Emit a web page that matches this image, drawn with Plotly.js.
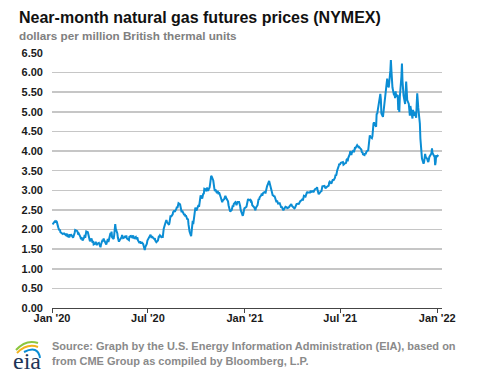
<!DOCTYPE html>
<html>
<head>
<meta charset="utf-8">
<script src="https://cdn.plot.ly/plotly-3.0.1.min.js"></script>
<style>
html,body{margin:0;padding:0;background:#fff;}
#chart{width:477px;height:379px;}
</style>
</head>
<body>
<div id="chart"></div>
<script>
// Near-month NYMEX natural gas futures, dollars per MMBtu
const dates = [
"2020-01-02","2020-01-03","2020-01-06","2020-01-07","2020-01-08","2020-01-09","2020-01-10","2020-01-13","2020-01-14","2020-01-15",
"2020-01-16","2020-01-17","2020-01-21","2020-01-22","2020-01-23","2020-01-24","2020-01-27","2020-01-28","2020-01-29","2020-01-30",
"2020-01-31","2020-02-03","2020-02-04","2020-02-05","2020-02-06","2020-02-07","2020-02-10","2020-02-11","2020-02-12","2020-02-13",
"2020-02-14","2020-02-18","2020-02-19","2020-02-20","2020-02-21","2020-02-24","2020-02-25","2020-02-26","2020-02-27","2020-02-28",
"2020-03-02","2020-03-03","2020-03-04","2020-03-05","2020-03-06","2020-03-09","2020-03-10","2020-03-11","2020-03-12","2020-03-13",
"2020-03-16","2020-03-17","2020-03-18","2020-03-19","2020-03-20","2020-03-23","2020-03-24","2020-03-25","2020-03-26","2020-03-27",
"2020-03-30","2020-03-31","2020-04-01","2020-04-02","2020-04-03","2020-04-06","2020-04-07","2020-04-08","2020-04-09","2020-04-13",
"2020-04-14","2020-04-15","2020-04-16","2020-04-17","2020-04-20","2020-04-21","2020-04-22","2020-04-23","2020-04-24","2020-04-27",
"2020-04-28","2020-04-29","2020-04-30","2020-05-01","2020-05-04","2020-05-05","2020-05-06","2020-05-07","2020-05-08","2020-05-11",
"2020-05-12","2020-05-13","2020-05-14","2020-05-15","2020-05-18","2020-05-19","2020-05-20","2020-05-21","2020-05-22","2020-05-26",
"2020-05-27","2020-05-28","2020-05-29","2020-06-01","2020-06-02","2020-06-03","2020-06-04","2020-06-05","2020-06-08","2020-06-09",
"2020-06-10","2020-06-11","2020-06-12","2020-06-15","2020-06-16","2020-06-17","2020-06-18","2020-06-19","2020-06-22","2020-06-23",
"2020-06-24","2020-06-25","2020-06-26","2020-06-29","2020-06-30","2020-07-01","2020-07-02","2020-07-06","2020-07-07","2020-07-08",
"2020-07-09","2020-07-10","2020-07-13","2020-07-14","2020-07-15","2020-07-16","2020-07-17","2020-07-20","2020-07-21","2020-07-22",
"2020-07-23","2020-07-24","2020-07-27","2020-07-28","2020-07-29","2020-07-30","2020-07-31","2020-08-03","2020-08-04","2020-08-05",
"2020-08-06","2020-08-07","2020-08-10","2020-08-11","2020-08-12","2020-08-13","2020-08-14","2020-08-17","2020-08-18","2020-08-19",
"2020-08-20","2020-08-21","2020-08-24","2020-08-25","2020-08-26","2020-08-27","2020-08-28","2020-08-31","2020-09-01","2020-09-02",
"2020-09-03","2020-09-04","2020-09-08","2020-09-09","2020-09-10","2020-09-11","2020-09-14","2020-09-15","2020-09-16","2020-09-17",
"2020-09-18","2020-09-21","2020-09-22","2020-09-23","2020-09-24","2020-09-25","2020-09-28","2020-09-29","2020-09-30","2020-10-01",
"2020-10-02","2020-10-05","2020-10-06","2020-10-07","2020-10-08","2020-10-09","2020-10-12","2020-10-13","2020-10-14","2020-10-15",
"2020-10-16","2020-10-19","2020-10-20","2020-10-21","2020-10-22","2020-10-23","2020-10-26","2020-10-27","2020-10-28","2020-10-29",
"2020-10-30","2020-11-02","2020-11-03","2020-11-04","2020-11-05","2020-11-06","2020-11-09","2020-11-10","2020-11-11","2020-11-12",
"2020-11-13","2020-11-16","2020-11-17","2020-11-18","2020-11-19","2020-11-20","2020-11-23","2020-11-24","2020-11-25","2020-11-27",
"2020-11-30","2020-12-01","2020-12-02","2020-12-03","2020-12-04","2020-12-07","2020-12-08","2020-12-09","2020-12-10","2020-12-11",
"2020-12-14","2020-12-15","2020-12-16","2020-12-17","2020-12-18","2020-12-21","2020-12-22","2020-12-23","2020-12-24","2020-12-28",
"2020-12-29","2020-12-30","2020-12-31",
"2021-01-04","2021-01-05","2021-01-06","2021-01-07","2021-01-08","2021-01-11","2021-01-12","2021-01-13","2021-01-14","2021-01-15",
"2021-01-19","2021-01-20","2021-01-21","2021-01-22","2021-01-25","2021-01-26","2021-01-27","2021-01-28","2021-01-29","2021-02-01",
"2021-02-02","2021-02-03","2021-02-04","2021-02-05","2021-02-08","2021-02-09","2021-02-10","2021-02-11","2021-02-12","2021-02-16",
"2021-02-17","2021-02-18","2021-02-19","2021-02-22","2021-02-23","2021-02-24","2021-02-25","2021-02-26","2021-03-01","2021-03-02",
"2021-03-03","2021-03-04","2021-03-05","2021-03-08","2021-03-09","2021-03-10","2021-03-11","2021-03-12","2021-03-15","2021-03-16",
"2021-03-17","2021-03-18","2021-03-19","2021-03-22","2021-03-23","2021-03-24","2021-03-25","2021-03-26","2021-03-29","2021-03-30",
"2021-03-31","2021-04-01","2021-04-05","2021-04-06","2021-04-07","2021-04-08","2021-04-09","2021-04-12","2021-04-13","2021-04-14",
"2021-04-15","2021-04-16","2021-04-19","2021-04-20","2021-04-21","2021-04-22","2021-04-23","2021-04-26","2021-04-27","2021-04-28",
"2021-04-29","2021-04-30","2021-05-03","2021-05-04","2021-05-05","2021-05-06","2021-05-07","2021-05-10","2021-05-11","2021-05-12",
"2021-05-13","2021-05-14","2021-05-17","2021-05-18","2021-05-19","2021-05-20","2021-05-21","2021-05-24","2021-05-25","2021-05-26",
"2021-05-27","2021-05-28","2021-06-01","2021-06-02","2021-06-03","2021-06-04","2021-06-07","2021-06-08","2021-06-09","2021-06-10",
"2021-06-11","2021-06-14","2021-06-15","2021-06-16","2021-06-17","2021-06-18","2021-06-21","2021-06-22","2021-06-23","2021-06-24",
"2021-06-25","2021-06-28","2021-06-29","2021-06-30","2021-07-01","2021-07-02","2021-07-06","2021-07-07","2021-07-08","2021-07-09",
"2021-07-12","2021-07-13","2021-07-14","2021-07-15","2021-07-16","2021-07-19","2021-07-20","2021-07-21","2021-07-22","2021-07-23",
"2021-07-26","2021-07-27","2021-07-28","2021-07-29","2021-07-30","2021-08-02","2021-08-03","2021-08-04","2021-08-05","2021-08-06",
"2021-08-09","2021-08-10","2021-08-11","2021-08-12","2021-08-13","2021-08-16","2021-08-17","2021-08-18","2021-08-19","2021-08-20",
"2021-08-23","2021-08-24","2021-08-25","2021-08-26","2021-08-27","2021-08-30","2021-08-31","2021-09-01","2021-09-02","2021-09-03",
"2021-09-07","2021-09-08","2021-09-09","2021-09-10","2021-09-13","2021-09-14","2021-09-15","2021-09-16","2021-09-17","2021-09-20",
"2021-09-21","2021-09-22","2021-09-23","2021-09-24","2021-09-27","2021-09-28","2021-09-29","2021-09-30","2021-10-01","2021-10-04",
"2021-10-05","2021-10-06","2021-10-07","2021-10-08","2021-10-11","2021-10-12","2021-10-13","2021-10-14","2021-10-15","2021-10-18",
"2021-10-19","2021-10-20","2021-10-21","2021-10-22","2021-10-25","2021-10-26","2021-10-27","2021-10-28","2021-10-29","2021-11-01",
"2021-11-02","2021-11-03","2021-11-04","2021-11-05","2021-11-08","2021-11-09","2021-11-10","2021-11-11","2021-11-12","2021-11-15",
"2021-11-16","2021-11-17","2021-11-18","2021-11-19","2021-11-22","2021-11-23","2021-11-24","2021-11-26","2021-11-29","2021-11-30",
"2021-12-01","2021-12-02","2021-12-03","2021-12-06","2021-12-07","2021-12-08","2021-12-09","2021-12-10","2021-12-13","2021-12-14",
"2021-12-15","2021-12-16","2021-12-17","2021-12-20","2021-12-21","2021-12-22","2021-12-23","2021-12-27","2021-12-28","2021-12-29",
"2021-12-30","2021-12-31","2022-01-03"
];
const prices = [
2.13,2.15,2.20,2.22,2.18,2.21,2.20,2.05,2.01,1.98,
2.00,1.93,1.89,1.91,1.88,1.90,1.86,1.90,1.86,1.84,
1.86,1.80,1.88,1.83,1.88,1.85,1.79,1.83,1.86,1.92,
1.99,1.96,1.92,1.87,1.89,1.81,1.75,1.80,1.73,1.72,
1.80,1.86,1.79,1.87,1.95,1.93,1.86,1.82,1.76,1.70,
1.77,1.72,1.66,1.71,1.62,1.64,1.69,1.64,1.60,1.64,
1.66,1.62,1.58,1.55,1.62,1.74,1.70,1.77,1.73,1.62,
1.67,1.71,1.76,1.68,1.85,1.91,1.83,1.95,1.80,1.76,
1.86,1.97,2.14,2.02,1.90,1.79,1.74,1.69,1.72,1.77,
1.80,1.86,1.82,1.78,1.80,1.84,1.79,1.85,1.77,1.73,
1.83,1.80,1.85,1.80,1.82,1.85,1.79,1.78,1.81,1.75,
1.78,1.80,1.73,1.66,1.70,1.66,1.64,1.68,1.63,1.58,
1.52,1.48,1.55,1.64,1.72,1.74,1.79,1.87,1.82,1.79,
1.83,1.80,1.76,1.78,1.72,1.71,1.68,1.72,1.78,1.84,
1.80,1.85,1.81,1.83,1.79,1.90,2.02,2.16,2.19,2.24,
2.20,2.17,2.12,2.18,2.27,2.36,2.33,2.39,2.46,2.44,
2.49,2.45,2.53,2.58,2.55,2.60,2.67,2.64,2.56,2.50,
2.44,2.48,2.37,2.40,2.33,2.36,2.25,2.28,2.13,2.03,
1.95,1.83,1.99,2.10,2.22,2.14,2.45,2.56,2.53,2.48,
2.52,2.62,2.58,2.72,2.85,2.87,2.79,2.83,2.92,2.90,
3.04,3.02,2.97,3.07,3.03,2.99,3.07,3.16,3.28,3.37,
3.35,3.25,3.19,3.05,2.98,3.02,2.93,2.98,2.96,2.90,
2.95,2.83,2.76,2.71,2.70,2.74,2.78,2.83,2.86,2.79,
2.72,2.62,2.56,2.52,2.46,2.50,2.55,2.61,2.58,2.65,
2.70,2.68,2.62,2.66,2.70,2.70,2.66,2.60,2.50,2.35,
2.40,2.48,2.54,
2.58,2.70,2.72,2.78,2.75,2.76,2.72,2.73,2.70,2.62,
2.56,2.50,2.49,2.56,2.62,2.70,2.78,2.76,2.82,2.87,
2.92,2.86,2.91,2.94,2.96,2.92,2.98,3.05,3.10,3.24,
3.18,3.12,3.02,2.92,2.86,2.88,2.84,2.86,2.77,2.70,
2.74,2.68,2.66,2.67,2.65,2.60,2.56,2.58,2.49,2.52,
2.54,2.55,2.58,2.56,2.53,2.57,2.55,2.58,2.62,2.65,
2.61,2.59,2.54,2.55,2.61,2.60,2.65,2.66,2.64,2.67,
2.70,2.72,2.75,2.78,2.74,2.80,2.86,2.84,2.88,2.91,
2.96,2.94,2.95,2.93,2.97,2.99,2.96,2.98,2.95,3.00,
2.98,3.03,3.05,3.08,3.00,2.93,2.90,2.95,2.98,2.96,
3.02,3.10,3.11,3.08,3.05,3.07,3.10,3.13,3.12,3.20,
3.22,3.17,3.20,3.25,3.28,3.25,3.32,3.40,3.37,3.42,
3.50,3.62,3.68,3.65,3.70,3.70,3.72,3.65,3.66,3.68,
3.70,3.78,3.80,3.74,3.82,3.92,4.00,3.95,3.90,3.96,
4.02,3.97,4.05,4.10,4.08,4.15,4.13,4.12,4.08,4.10,
4.05,4.04,3.96,3.98,3.92,3.90,3.94,3.92,3.96,3.99,
4.02,4.18,4.30,4.40,4.37,4.33,4.38,4.62,4.70,4.73,
4.62,4.96,4.94,5.03,5.25,5.38,5.46,5.32,4.96,4.87,
4.98,5.12,5.17,5.32,5.68,5.85,5.72,5.63,5.62,6.05,
6.32,6.05,5.67,5.62,5.42,5.45,5.35,5.52,5.39,5.43,
5.05,5.10,5.00,5.38,5.90,6.23,5.80,5.42,5.42,5.20,
5.52,5.77,5.55,5.30,5.20,5.09,4.90,5.15,5.08,4.83,
5.05,4.95,4.90,5.00,4.85,5.20,5.47,5.10,4.70,4.32,
4.10,3.90,3.81,3.68,3.72,3.82,3.93,3.85,3.80,3.75,
3.72,3.78,3.85,3.92,3.95,4.07,3.95,3.85,3.64,3.72,
3.90,3.85,3.90
];
const xTickVals = ["2020-01-01","2020-07-01","2021-01-01","2021-07-01","2022-01-01"];
const xTickText = ["Jan '20","Jul '20","Jan '21","Jul '21","Jan '22"];
const yTickVals = [0,0.5,1,1.5,2,2.5,3,3.5,4,4.5,5,5.5,6,6.5];

const titleText = "Near-month natural gas futures prices (NYMEX)";
const subtitleText = "dollars per million British thermal units";
const source1 = "Source: Graph by the U.S. Energy Information Administration (EIA), based on";
const source2 = "from CME Group as compiled by Bloomberg, L.P.";

// layout geometry (pixels)
const L = 52, R = 35, T = 53, B = 71, W = 477, H = 379;
const pw = W - L - R, ph = H - T - B;
const px = x => (x - L) / pw;
const py = y => (H - B - y) / ph;

const FONT = "Liberation Sans, Arial, sans-serif";

const trace = {
  x: dates, y: prices, type: "scatter", mode: "lines",
  line: {color: "#0b8dd4", width: 2},
  hoverinfo: "x+y"
};

function arc(x0,y0,cx,cy,x1,y1){
  return `M ${px(x0)} ${py(y0)} Q ${px(cx)} ${py(cy)} ${px(x1)} ${py(y1)}`;
}

const layout = {
  width: W, height: H,
  margin: {l: L, r: R, t: T, b: B, pad: 0},
  paper_bgcolor: "#ffffff", plot_bgcolor: "#ffffff",
  showlegend: false,
  font: {family: FONT, size: 11, color: "#1a1a1a"},
  xaxis: {
    type: "date",
    range: ["2020-01-01", "2022-01-10"],
    tickvals: xTickVals, ticktext: xTickText,
    ticks: "outside", ticklen: 4, tickwidth: 1, tickcolor: "#444",
    showgrid: false, zeroline: false,
    showline: true, linecolor: "#444", linewidth: 1,
    tickfont: {family: FONT, size: 11, color: "#1a1a1a", weight: "bold"},
    ticklabelstandoff: -4,
    tickangle: 0, fixedrange: true
  },
  yaxis: {
    range: [0, 6.5],
    tickvals: yTickVals, tickformat: ".2f",
    ticks: "", showline: false, zeroline: false,
    showgrid: true, gridcolor: "#c6c6c6", gridwidth: 1.5,
    tickfont: {family: FONT, size: 11, color: "#1a1a1a", weight: "bold"},
    ticklabelstandoff: 8, fixedrange: true
  },
  annotations: [
    {text: titleText, xref: "paper", yref: "paper", x: px(17), y: py(17), xanchor: "left", yanchor: "middle",
     showarrow: false, font: {family: FONT, size: 16, color: "#111", weight: "bold"}},
    {text: subtitleText, xref: "paper", yref: "paper", x: px(17), y: py(35), xanchor: "left", yanchor: "middle",
     showarrow: false, font: {family: FONT, size: 11.7, color: "#808080", weight: "bold"}},
    {text: source1, xref: "paper", yref: "paper", x: px(50), y: py(346), xanchor: "left", yanchor: "middle",
     showarrow: false, font: {family: FONT, size: 11, color: "#8a8a8a", weight: "bold"}},
    {text: source2, xref: "paper", yref: "paper", x: px(50), y: py(361), xanchor: "left", yanchor: "middle",
     showarrow: false, font: {family: FONT, size: 11, color: "#8a8a8a", weight: "bold"}},
    {text: "eia", xref: "paper", yref: "paper", x: px(11), y: py(361), xanchor: "left", yanchor: "middle",
     showarrow: false, font: {family: "Liberation Serif, DejaVu Serif, serif", size: 24, color: "#1d3557"}}
  ],
  shapes: [
    {type: "path", xref: "paper", yref: "paper", path: arc(16,350,26,339,38,343), line: {color: "#8cc63f", width: 2}},
    {type: "path", xref: "paper", yref: "paper", path: arc(17,353,27,343,38,347), line: {color: "#f2b21c", width: 2}},
    {type: "path", xref: "paper", yref: "paper", path: arc(24,352,38,345,40,358), line: {color: "#0b8dd4", width: 2}}
  ]
};

Plotly.newPlot("chart", [trace], layout, {displayModeBar: false, staticPlot: true});
</script>
</body>
</html>
